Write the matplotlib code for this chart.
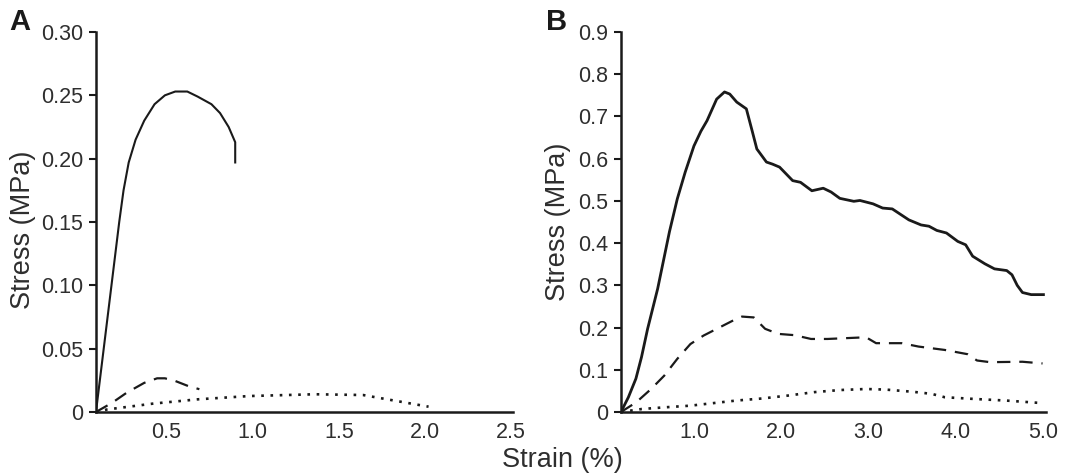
import matplotlib
matplotlib.use("Agg")
import matplotlib.pyplot as plt

plt.rcParams['font.family'] = ['Liberation Sans', 'DejaVu Sans']

# Panel A: stress-strain curves
a_solid_x = [0.09, 0.135, 0.18, 0.225, 0.25, 0.28, 0.32, 0.37, 0.43, 0.49,
             0.55, 0.62, 0.68, 0.76, 0.81, 0.86, 0.898, 0.898]
a_solid_y = [0, 0.05, 0.10, 0.15, 0.175, 0.197, 0.215, 0.23, 0.243, 0.25,
             0.253, 0.253, 0.249, 0.243, 0.236, 0.225, 0.213, 0.197]
a_dash_x = [0.09, 0.184, 0.268, 0.37, 0.445, 0.49, 0.55, 0.625, 0.69]
a_dash_y = [0, 0.0073, 0.0152, 0.023, 0.0266, 0.0266, 0.0245, 0.0205, 0.018]
a_dot_x = [0.09, 0.155, 0.42, 0.68, 0.98, 1.36, 1.64, 1.78, 2.02]
a_dot_y = [0, 0.002, 0.0066, 0.010, 0.0126, 0.014, 0.0134, 0.010, 0.0042]

# Panel B
b_solid_x = [0.165, 0.25, 0.336, 0.40, 0.47, 0.585, 0.72, 0.81, 0.90, 1.0, 1.08,
             1.15, 1.26, 1.35, 1.41, 1.49, 1.60, 1.67, 1.72, 1.83, 1.90, 1.98,
             2.13, 2.22, 2.35, 2.48, 2.57, 2.67, 2.83, 2.90, 3.05, 3.16, 3.27,
             3.46, 3.60, 3.69, 3.78, 3.89, 4.02, 4.11, 4.19, 4.33, 4.44, 4.58,
             4.64, 4.70, 4.76, 4.86, 5.0]
b_solid_y = [0, 0.035, 0.079, 0.13, 0.197, 0.292, 0.427, 0.505, 0.568, 0.63, 0.665,
             0.69, 0.741, 0.758, 0.753, 0.734, 0.718, 0.663, 0.623, 0.592, 0.587, 0.580,
             0.548, 0.544, 0.524, 0.530, 0.521, 0.506, 0.499, 0.501, 0.493, 0.483, 0.481,
             0.455, 0.443, 0.440, 0.430, 0.424, 0.404, 0.396, 0.369, 0.351, 0.339, 0.335,
             0.325, 0.30, 0.283, 0.278, 0.278]
b_dash_x = [0.165, 0.34, 0.51, 0.66, 0.81, 0.96, 1.11, 1.29, 1.48, 1.55, 1.685,
            1.815, 1.965, 2.15, 2.34, 2.53, 2.97, 3.085, 3.38, 3.57, 3.87, 4.13,
            4.24, 4.39, 4.76, 4.99]
b_dash_y = [0, 0.023, 0.0545, 0.086, 0.126, 0.161, 0.181, 0.2, 0.220, 0.226, 0.224,
            0.197, 0.185, 0.182, 0.173, 0.173, 0.177, 0.163, 0.163, 0.155, 0.147, 0.137,
            0.122, 0.118, 0.119, 0.115]
b_dot_x = [0.165, 0.30, 0.40, 0.66, 0.96, 1.22, 1.48, 1.78, 2.08, 2.375, 2.67, 2.97,
           3.20, 3.50, 3.72, 3.87, 4.20, 4.58, 4.99]
b_dot_y = [0, 0.004, 0.007, 0.011, 0.015, 0.021, 0.027, 0.032, 0.039, 0.047, 0.052,
           0.0545, 0.053, 0.048, 0.043, 0.035, 0.031, 0.027, 0.021]

a_yticks = [0, 0.05, 0.10, 0.15, 0.20, 0.25, 0.30]
a_ylabels = ['0', '0.05', '0.10', '0.15', '0.20', '0.25', '0.30']
a_xticks = [0.5, 1.0, 1.5, 2.0, 2.5]
b_yticks = [0, 0.1, 0.2, 0.3, 0.4, 0.5, 0.6, 0.7, 0.8, 0.9]
b_ylabels = ['0', '0.1', '0.2', '0.3', '0.4', '0.5', '0.6', '0.7', '0.8', '0.9']
b_xticks = [1.0, 2.0, 3.0, 4.0, 5.0]

INK = '#1a1a1a'
TXT = '#2e2e2e'

fig = plt.figure(figsize=(10.71, 4.74), dpi=100)
ax_a = fig.add_axes([0.0896, 0.1308, 0.3894, 0.8017])
ax_b = fig.add_axes([0.5798, 0.1308, 0.3969, 0.8017])


def style_axis(ax, xticks, yticks, ylabels, xlim, ylim):
    for side in ['top', 'right']:
        ax.spines[side].set_visible(False)
    for side in ['left', 'bottom']:
        ax.spines[side].set_linewidth(1.8)
        ax.spines[side].set_color(INK)
    ax.set_xlim(*xlim)
    ax.set_ylim(*ylim)
    ax.set_xticks(xticks)
    ax.set_xticklabels(['%.1f' % t for t in xticks])
    ax.set_yticks(yticks)
    ax.set_yticklabels(ylabels)
    ax.tick_params(axis='x', length=0, pad=7, labelsize=15.5, labelcolor=TXT)
    ax.tick_params(axis='y', length=5, width=1.5, color=INK, pad=4,
                   labelsize=15.5, labelcolor=TXT)


ax_a.plot(a_solid_x, a_solid_y, color=INK, lw=1.5)
ax_a.plot(a_dash_x, a_dash_y, color=INK, lw=1.6, dashes=(6, 4))
ax_a.plot(a_dot_x, a_dot_y, color=INK, lw=1.9, dashes=(1, 2.5))
style_axis(ax_a, a_xticks, a_yticks, a_ylabels, (0.09, 2.51), (0, 0.30))

ax_b.plot(b_solid_x, b_solid_y, color=INK, lw=2.0)
ax_b.plot(b_dash_x, b_dash_y, color=INK, lw=1.6, dashes=(6, 4))
ax_b.plot(b_dot_x, b_dot_y, color=INK, lw=1.9, dashes=(1, 2.5))
style_axis(ax_b, b_xticks, b_yticks, b_ylabels, (0.165, 5.03), (0, 0.9))

# axis titles placed as figure text
fig.text(0.0215, 0.515, 'Stress (MPa)', fontsize=19.5, color=TXT,
         rotation=90, ha='center', va='center')
fig.text(0.521, 0.532, 'Stress (MPa)', fontsize=19.5, color=TXT,
         rotation=90, ha='center', va='center')
fig.text(0.525, 0.0148, 'Strain (%)', fontsize=19.5, color=TXT,
         ha='center', va='baseline')

fig.text(0.009, 0.954, 'A', fontsize=21, fontweight='bold', color=INK, va='center')
fig.text(0.510, 0.954, 'B', fontsize=21, fontweight='bold', color=INK, va='center')

fig.savefig('out.png', dpi=100)
